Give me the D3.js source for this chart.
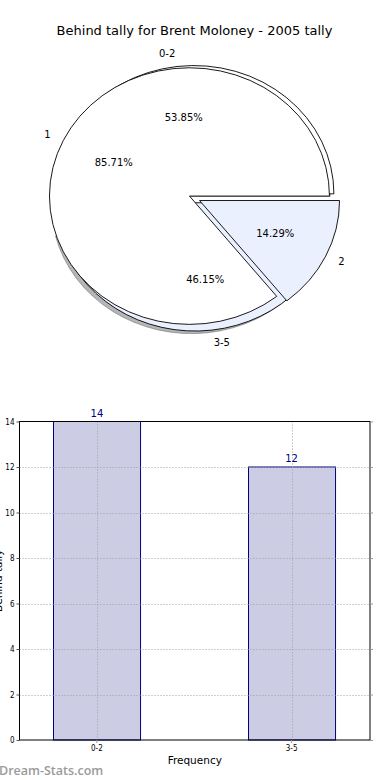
<!DOCTYPE html>
<html>
<head>
<meta charset="utf-8">
<script src="https://cdn.jsdelivr.net/npm/d3@7"></script>
<style>
  html, body { margin: 0; padding: 0; background: #fff; }
  svg { display: block; }
  text { font-family: "DejaVu Sans", sans-serif; }
</style>
</head>
<body>
<svg id="chart" width="390" height="780"></svg>
<script>
// ---------- data ----------
const chartTitle = "Behind tally for Brent Moloney - 2005 tally";
const outerPieLabels = ["0-2", "3-5"];
const outerPieValues = [14, 12];
const innerPieLabels = ["1", "2"];
const innerPieValues = [12, 2];
const pieColors = ["#ffffff", "#eaf0fd"];

const barCategories = ["0-2", "3-5"];
const barValues = [14, 12];
const yTickValues = [0, 2, 4, 6, 8, 10, 12, 14];
const xAxisTitle = "Frequency";
const yAxisTitle = "Behind tally";
const watermark = "Dream-Stats.com";

// ---------- setup ----------
const svg = d3.select("#chart");

svg.append("text")
  .attr("x", 194.5).attr("y", 34.5)
  .attr("text-anchor", "middle")
  .style("font-size", "13px")
  .attr("fill", "#000")
  .text(chartTitle);

// ---------- pies (matplotlib-like, elliptical, counter-clockwise from east) ----------
const pieCx = 194.5, pieCy = 198.3, rx = 140, ry = 128.3;
const R = 100;
const arcGen = d3.arc().innerRadius(0).outerRadius(R);
const pieLayout = d3.pie().sort(null).value(d => d)
  .startAngle(Math.PI / 2).endAngle(Math.PI / 2 - 2 * Math.PI);

function offsetFor(a, e) {
  const mid = (a.startAngle + a.endAngle) / 2;
  return [e * rx * Math.sin(mid), -e * ry * Math.cos(mid)];
}

const pieShapes = svg.append("g");
const pieTexts = svg.append("g");

function drawPie(values, labels, explode, shadow) {
  const arcs = pieLayout(values);
  const total = d3.sum(values);
  const g = pieShapes.append("g");
  if (shadow) {
    const sg = g.append("g");
    arcs.forEach((a, i) => {
      const [ox, oy] = offsetFor(a, explode);
      const c = d3.rgb(pieColors[i]);
      const sc = `rgb(${c.r * 0.3},${c.g * 0.3},${c.b * 0.3})`;
      sg.append("path")
        .attr("d", arcGen(a))
        .attr("transform", `translate(${pieCx + ox - 0.026 * rx},${pieCy + oy + 0.02 * ry}) scale(${rx / R},${ry / R})`)
        .attr("fill", sc).attr("fill-opacity", 0.4)
        .attr("stroke", sc).attr("stroke-opacity", 0.4)
        .attr("stroke-width", 1)
        .attr("vector-effect", "non-scaling-stroke");
    });
  }
  arcs.forEach((a, i) => {
    const [ox, oy] = offsetFor(a, explode);
    g.append("path")
      .attr("d", arcGen(a))
      .attr("transform", `translate(${pieCx + ox},${pieCy + oy}) scale(${rx / R},${ry / R})`)
      .attr("fill", pieColors[i])
      .attr("stroke", "#000")
      .attr("stroke-width", 0.9)
      .attr("stroke-linejoin", "miter")
      .attr("vector-effect", "non-scaling-stroke");
  });
  arcs.forEach((a, i) => {
    const [ox, oy] = offsetFor(a, explode);
    const mid = (a.startAngle + a.endAngle) / 2;
    const sx = Math.sin(mid), cy = Math.cos(mid);
    const lx = pieCx + ox + 1.1 * rx * sx, ly = pieCy + oy - 1.1 * ry * cy;
    pieTexts.append("text")
      .attr("x", lx).attr("y", ly)
      .attr("dy", "0.35em")
      .attr("text-anchor", sx > 0 ? "start" : "end")
      .style("font-size", "10px")
      .text(labels[i]);
    const px = pieCx + ox + 0.6 * rx * sx, py = pieCy + oy - 0.6 * ry * cy;
    pieTexts.append("text")
      .attr("x", px).attr("y", py)
      .attr("dy", "0.35em")
      .attr("text-anchor", "middle")
      .style("font-size", "10px")
      .text(d3.format(".2f")(values[i] / total * 100) + "%");
  });
}

drawPie(outerPieValues, outerPieLabels, 0.035, true);
drawPie(innerPieValues, innerPieLabels, 0.04, false);

// ---------- bar chart ----------
const pLeft = 19.5, pRight = 370, pTop = 421.5, pBottom = 740;
const x = d3.scaleBand().domain(barCategories).range([pLeft, pRight])
  .paddingInner(0.553).paddingOuter(0.1765);
const y = d3.scaleLinear().domain([0, 14]).range([pBottom, pTop]);

const bg = svg.append("g");

// bars
bg.selectAll("rect.bar").data(barValues).join("rect")
  .attr("class", "bar")
  .attr("x", (d, i) => Math.floor(x(barCategories[i])) + 0.5)
  .attr("y", d => y(d))
  .attr("width", x.bandwidth())
  .attr("height", d => y(0) - y(d))
  .attr("fill", "#ccccE5")
  .attr("stroke", "#000080")
  .attr("stroke-width", 1);

// grid
const grid = bg.append("g")
  .attr("stroke", "#a0a0a0").attr("stroke-width", 1)
  .attr("stroke-dasharray", "1,2");
yTickValues.filter(v => v > 0 && v < 14).forEach(v => {
  grid.append("line")
    .attr("x1", pLeft).attr("x2", pRight)
    .attr("y1", Math.round(y(v)) + 0.5).attr("y2", Math.round(y(v)) + 0.5);
});
barCategories.forEach(c => {
  const cx = Math.floor(x(c) + x.bandwidth() / 2) + 0.5;
  grid.append("line")
    .attr("x1", cx).attr("x2", cx)
    .attr("y1", pTop).attr("y2", pBottom);
});

// value labels
bg.selectAll("text.val").data(barValues).join("text")
  .attr("class", "val")
  .attr("x", (d, i) => x(barCategories[i]) + x.bandwidth() / 2 - 0.5)
  .attr("y", d => y(d) - 5)
  .attr("text-anchor", "middle")
  .attr("fill", "#000080")
  .style("font-size", "10px")
  .text(d => d);

// frame
bg.append("rect")
  .attr("x", pLeft).attr("y", pTop)
  .attr("width", pRight - pLeft).attr("height", pBottom - pTop)
  .attr("fill", "none").attr("stroke", "#000").attr("stroke-width", 1);

// axes
const tickFont = g => g.selectAll("text")
  .style("font-family", "'DejaVu Sans Condensed', 'DejaVu Sans', sans-serif")
  .style("font-stretch", "condensed")
  .style("font-size", "8px").attr("fill", "#000");

const yAxis = d3.axisLeft(y).tickValues(yTickValues).tickSize(3).tickPadding(2).tickFormat(d3.format("d"));
bg.append("g").attr("transform", `translate(${pLeft},0)`).call(yAxis)
  .call(g => g.select(".domain").remove())
  .call(g => g.selectAll("line").attr("stroke", "#555"))
  .call(tickFont);

const yAxisR = d3.axisRight(y).tickValues(yTickValues).tickSize(3).tickFormat("");
bg.append("g").attr("transform", `translate(${pRight},0)`).call(yAxisR)
  .call(g => g.select(".domain").remove())
  .call(g => g.selectAll("line").attr("stroke", "#999"));

const xAxis = d3.axisBottom(x).tickSize(3).tickPadding(2);
bg.append("g").attr("transform", `translate(-0.5,${pBottom})`).call(xAxis)
  .call(g => g.select(".domain").remove())
  .call(g => g.selectAll("line").attr("stroke", "#999"))
  .call(tickFont);

bg.append("text")
  .attr("x", (pLeft + pRight) / 2).attr("y", 764)
  .attr("text-anchor", "middle")
  .style("font-size", "10.5px")
  .text(xAxisTitle);

bg.append("text")
  .attr("transform", `translate(2,${(pTop + pBottom) / 2}) rotate(-90)`)
  .attr("text-anchor", "middle")
  .style("font-size", "10.5px")
  .text(yAxisTitle);

// watermark
svg.append("text")
  .attr("x", -1).attr("y", 775)
  .style("font-family", "'Open Sans', sans-serif")
  .style("font-weight", "600")
  .style("font-size", "12.5px")
  .attr("fill", "#9a9a9a")
  .text(watermark);
</script>
</body>
</html>
